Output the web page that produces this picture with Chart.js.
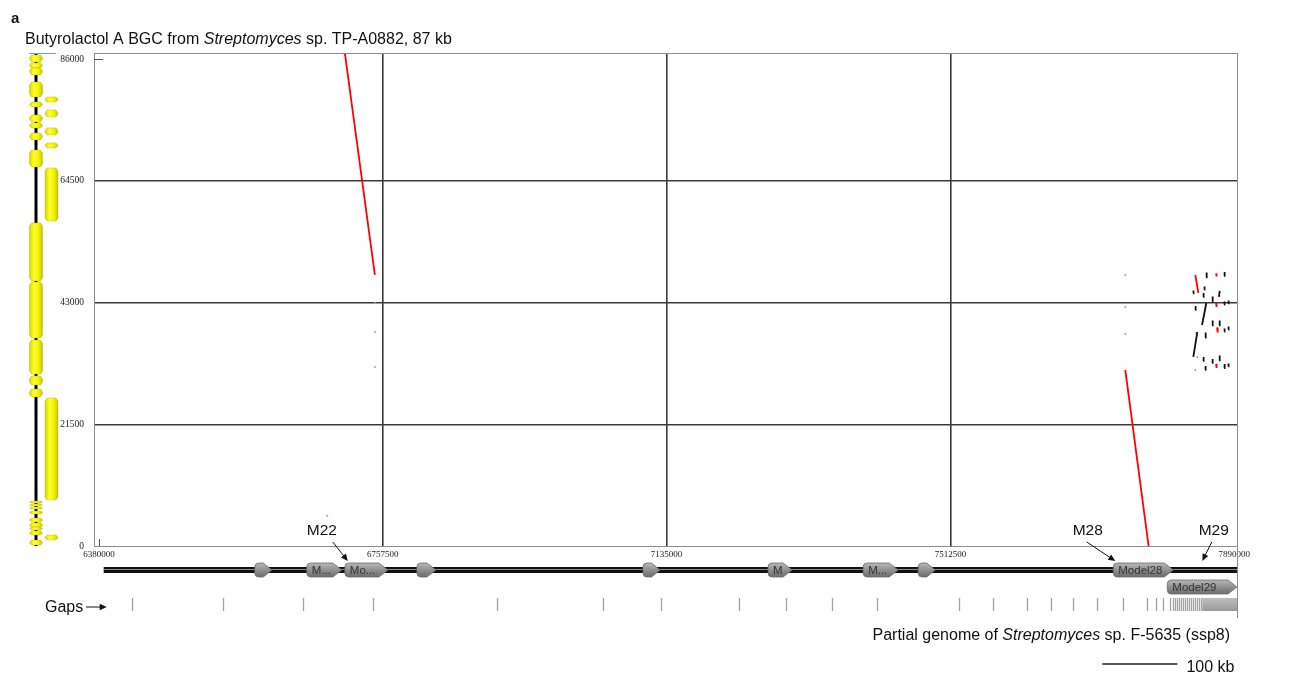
<!DOCTYPE html>
<html><head><meta charset="utf-8">
<script src="https://cdn.jsdelivr.net/npm/chart.js@4"></script>
<style>html,body{margin:0;padding:0;background:#fff}canvas{display:block}</style>
</head><body>
<canvas id="c" width="1250" height="673"></canvas>
<script>
// ---- axes ----
const xTicks = [6380000, 6757500, 7135000, 7512500, 7890000];
const yTicks = [0, 21500, 43000, 64500, 86000];
const xRange = [6373500, 7893600];
const yRange = [0, 87100];

// ---- dot-plot alignments [xStart, yStart, xEnd, yEnd] (bp) ----
const reverseMatches = [
  [6707090, 87110, 6747010, 47890],
  [7745030, 31100, 7776040, 0],
  [7838180, 47890, 7842170, 44710],
  [7865870, 48160, 7866390, 47630],
  [7865780, 42940, 7866480, 42230],
  [7867020, 38610, 7867900, 37730],
  [7865780, 32160, 7866480, 31450]
];
const forwardMatches = [
  [7852380, 47450, 7853260, 48330],
  [7876430, 47710, 7877130, 48410],
  [7849900, 45320, 7850420, 45860],
  [7835260, 44620, 7835780, 45150],
  [7848480, 44000, 7849180, 44700],
  [7860370, 43200, 7861250, 44080],
  [7869590, 44000, 7870650, 45060],
  [7876510, 42670, 7877050, 43200],
  [7881840, 42850, 7882370, 43380],
  [7847100, 39050, 7852820, 42940],
  [7837830, 41700, 7838530, 42410],
  [7860370, 38970, 7861250, 39850],
  [7869680, 38970, 7870560, 39850],
  [7876510, 37900, 7877050, 38430],
  [7881840, 38250, 7882370, 38780],
  [7835520, 33400, 7840840, 37810],
  [7851050, 36840, 7851930, 37720],
  [7848480, 32690, 7849180, 33400],
  [7860460, 32340, 7861160, 33040],
  [7869680, 32780, 7870560, 33660],
  [7876430, 31450, 7877130, 32160],
  [7881840, 31720, 7882370, 32250],
  [7851140, 31100, 7851840, 31810]
];
const reverseDots = [
  [7839510, 37640], [7840840, 33400], [7838180, 31100],
  [7745030, 47890], [7745030, 42230], [7745030, 37460],
  [6747010, 42940], [6747010, 37810], [6747010, 31630], [6683530, 5350]
];

// ---- BGC genes (query, bp) ----
const bgcLength = 87100;
const bgcGenesOnStrand = [
  [85520, 86760], [84460, 85350], [83220, 84460], [79340, 81990], [77570, 78450],
  [74920, 76160], [73860, 74740], [71740, 72980], [66970, 69970], [46830, 57080],
  [36750, 46650], [30390, 36400], [28450, 30040], [26330, 27740],
  [7600, 7950], [7070, 7420], [6540, 6890], [5650, 6180], [4240, 4950],
  [3360, 4060], [2830, 3360], [1940, 2650], [180, 1060]
];
const bgcGenesOffset = [
  [78450, 79340], [75800, 77040], [72630, 73860], [70330, 71210],
  [57430, 66790], [8130, 26150], [1060, 1940]
];

// ---- partial genome gene models [start, end, label, row] ----
const genomeGenes = [
  [6587320, 6609940, '', 0], [6656520, 6703090, 'M...', 0], [6707090, 6764310, 'Mo...', 0],
  [6802890, 6828180, '', 0], [7103630, 7126250, '', 0], [7269970, 7301910, 'M', 0],
  [7396390, 7442960, 'M...', 0], [7469580, 7492200, '', 0], [7729060, 7808900, 'Model28', 0],
  [7800920, 7893500, 'Model29', 1]
];
const genomeBackbone = [6386400, 7893600];
const gapPositions = [
  6423650, 6544740, 6651200, 6744340, 6909350, 7050410, 7127590, 7231380, 7293920,
  7355140, 7415020, 7524140, 7569380, 7614630, 7646560, 7675840, 7707770, 7742370,
  7774310, 7786280, 7795600, 7804910, 7808900, 7811600, 7814200, 7816900, 7819500,
  7822200, 7824900, 7827500, 7830200, 7832800, 7835500, 7838200, 7840800, 7843500, 7846100
];
const gapBlock = [7847500, 7893600];
const calloutLabels = ['M22', 'M28', 'M29'];
const calloutTextX = [6676450, 7695120, 7862680];
const calloutTailX = [6691110, 7693790, 7860010];
const calloutTipX = [6711080, 7731720, 7847500];
const scaleBarStart = 7714400, scaleBarLength = 100000;

const SANS = '"Liberation Sans", Arial, sans-serif';

function segData(list) {
  const out = [];
  list.forEach(s => { out.push({x: s[0], y: s[1]}, {x: s[2], y: s[3]}, {x: s[2], y: null}); });
  return out;
}
function richText(ctx, parts, x, y, size, align) {
  let total = 0; const w = [];
  parts.forEach(p => { ctx.font = (p[1] ? 'italic ' : '') + size + 'px ' + SANS; const m = ctx.measureText(p[0]).width; w.push(m); total += m; });
  let cx = align === 'right' ? x - total : x;
  ctx.textAlign = 'left';
  parts.forEach((p, i) => { ctx.font = (p[1] ? 'italic ' : '') + size + 'px ' + SANS; ctx.fillText(p[0], cx, y); cx += w[i]; });
}
function arrow(ctx, x1, y1, x2, y2, head) {
  const a = Math.atan2(y2 - y1, x2 - x1);
  ctx.beginPath(); ctx.moveTo(x1, y1); ctx.lineTo(x2 - Math.cos(a) * head * 0.8, y2 - Math.sin(a) * head * 0.8); ctx.stroke();
  ctx.beginPath(); ctx.moveTo(x2, y2);
  ctx.lineTo(x2 - head * Math.cos(a) + head * 0.45 * Math.sin(a), y2 - head * Math.sin(a) - head * 0.45 * Math.cos(a));
  ctx.lineTo(x2 - head * Math.cos(a) - head * 0.45 * Math.sin(a), y2 - head * Math.sin(a) + head * 0.45 * Math.cos(a));
  ctx.closePath(); ctx.fill();
}

const tracks = {
  id: 'tracks',
  afterDraw(chart) {
    const ctx = chart.ctx, ca = chart.chartArea;
    const X = v => chart.scales.x.getPixelForValue(v);
    const Y = v => chart.scales.y.getPixelForValue(v);
    ctx.save();
    // frame
    ctx.strokeStyle = '#8c8c8c'; ctx.lineWidth = 1;
    ctx.strokeRect(Math.round(ca.left) + 0.5, Math.round(ca.top) + 0.5, Math.round(ca.right - ca.left), Math.round(ca.bottom - ca.top));
    ctx.beginPath(); ctx.moveTo(Math.round(ca.right) + 0.5, ca.bottom); ctx.lineTo(Math.round(ca.right) + 0.5, ca.bottom + 72); ctx.stroke();
    // first-tick marks
    ctx.strokeStyle = '#555';
    ctx.beginPath(); ctx.moveTo(ca.left, Math.round(Y(yTicks[yTicks.length - 1])) + 0.5); ctx.lineTo(ca.left + 9, Math.round(Y(yTicks[yTicks.length - 1])) + 0.5); ctx.stroke();
    ctx.beginPath(); ctx.moveTo(Math.round(X(xTicks[0])) + 0.5, ca.bottom); ctx.lineTo(Math.round(X(xTicks[0])) + 0.5, ca.bottom - 7); ctx.stroke();

    // ---- left BGC track ----
    const lane1 = 36, lane2 = 51.5, hw = 6.5;
    ctx.strokeStyle = '#6a9ae0'; ctx.lineWidth = 1;
    ctx.beginPath(); ctx.moveTo(29, Math.round(Y(bgcLength)) + 0.5); ctx.lineTo(56, Math.round(Y(bgcLength)) + 0.5); ctx.stroke();
    ctx.strokeStyle = '#000'; ctx.lineWidth = 3;
    ctx.beginPath(); ctx.moveTo(lane1, Y(bgcLength) + 1); ctx.lineTo(lane1, Y(0)); ctx.stroke();
    function gene(cx, s, e) {
      const top = Y(e), bot = Y(s), h = bot - top, t = Math.min(3, h / 2.2);
      const g = ctx.createLinearGradient(cx - hw, 0, cx + hw, 0);
      g.addColorStop(0, '#d6d600'); g.addColorStop(0.35, '#ffff2a'); g.addColorStop(0.7, '#f2f200'); g.addColorStop(1, '#c4c400');
      ctx.fillStyle = g;
      ctx.beginPath();
      ctx.moveTo(cx - hw + 2, top); ctx.lineTo(cx + hw - 2, top); ctx.lineTo(cx + hw, top + t);
      ctx.lineTo(cx + hw, bot - t); ctx.lineTo(cx + hw - 2, bot); ctx.lineTo(cx - hw + 2, bot);
      ctx.lineTo(cx - hw, bot - t); ctx.lineTo(cx - hw, top + t); ctx.closePath(); ctx.fill();
      ctx.strokeStyle = 'rgba(170,170,0,0.6)'; ctx.lineWidth = 0.6; ctx.stroke();
    }
    bgcGenesOnStrand.forEach(g => gene(lane1, g[0], g[1]));
    bgcGenesOffset.forEach(g => gene(lane2, g[0], g[1]));

    // ---- bottom genome track ----
    const b = ca.bottom;
    const yBack = b + 24;
    ctx.lineCap = 'butt';
    ctx.strokeStyle = '#111'; ctx.lineWidth = 6;
    ctx.beginPath(); ctx.moveTo(X(genomeBackbone[0]), yBack); ctx.lineTo(X(genomeBackbone[1]), yBack); ctx.stroke();
    ctx.strokeStyle = '#8a8a8a'; ctx.lineWidth = 1.2;
    ctx.beginPath(); ctx.moveTo(X(genomeBackbone[0]), yBack - 0.5); ctx.lineTo(X(genomeBackbone[1]), yBack - 0.5); ctx.stroke();
    genomeGenes.forEach(g => {
      const x1 = X(g[0]), x2 = Math.min(X(g[1]), ca.right + 0.5), yc = yBack + g[3] * 17, h = 14;
      const top = yc - h / 2, bot = yc + h / 2, head = Math.min(9, (x2 - x1) * 0.5), r = 4;
      const gr = ctx.createLinearGradient(0, top, 0, bot);
      gr.addColorStop(0, '#b8b8b8'); gr.addColorStop(0.5, '#909090'); gr.addColorStop(1, '#6c6c6c');
      ctx.fillStyle = gr;
      ctx.beginPath();
      ctx.moveTo(x1 + r, top); ctx.lineTo(x2 - head, top); ctx.lineTo(x2, yc); ctx.lineTo(x2 - head, bot);
      ctx.lineTo(x1 + r, bot); ctx.quadraticCurveTo(x1, bot, x1, bot - r); ctx.lineTo(x1, top + r);
      ctx.quadraticCurveTo(x1, top, x1 + r, top); ctx.closePath(); ctx.fill();
      ctx.strokeStyle = '#6a6a6a'; ctx.lineWidth = 0.8; ctx.stroke();
      if (g[2]) {
        ctx.fillStyle = '#333'; ctx.font = '11.5px ' + SANS; ctx.textAlign = 'left'; ctx.textBaseline = 'middle';
        ctx.fillText(g[2], x1 + 5, yc + 0.5);
      }
    });
    // gaps
    const gTop = b + 52, gBot = b + 65;
    ctx.strokeStyle = '#a4a4a4'; ctx.lineWidth = 1.3;
    gapPositions.forEach(p => { const x = Math.round(X(p)) + 0.5; ctx.beginPath(); ctx.moveTo(x, gTop); ctx.lineTo(x, gBot); ctx.stroke(); });
    const gb = ctx.createLinearGradient(0, gTop, 0, gBot);
    gb.addColorStop(0, '#bdbdbd'); gb.addColorStop(1, '#9a9a9a');
    ctx.fillStyle = gb; ctx.fillRect(X(gapBlock[0]), gTop, Math.min(X(gapBlock[1]), ca.right) - X(gapBlock[0]), gBot - gTop);

    // callouts
    ctx.fillStyle = '#111'; ctx.strokeStyle = '#111'; ctx.lineWidth = 1;
    ctx.textBaseline = 'alphabetic';
    calloutLabels.forEach((l, i) => {
      ctx.font = '15.5px ' + SANS; ctx.textAlign = 'center';
      ctx.fillText(l, X(calloutTextX[i]), b - 11);
      arrow(ctx, X(calloutTailX[i]), b - 4, X(calloutTipX[i]), b + 15, 7);
    });
    // Gaps label
    ctx.font = '16px ' + SANS; ctx.textAlign = 'left';
    ctx.fillText('Gaps', 45, b + 66);
    arrow(ctx, 86, b + 61, X(genomeBackbone[0]) + 3, b + 61, 7);
    // captions
    ctx.fillStyle = '#111';
    richText(ctx, [['Partial genome of ', false], ['Streptomyces', true], [' sp. F-5635 (ssp8)', false]], 1230, b + 94, 16, 'right');
    // scale bar
    ctx.strokeStyle = '#222'; ctx.lineWidth = 1.5;
    ctx.beginPath(); ctx.moveTo(X(scaleBarStart), b + 118); ctx.lineTo(X(scaleBarStart + scaleBarLength), b + 118); ctx.stroke();
    ctx.font = '16px ' + SANS; ctx.textAlign = 'left'; ctx.textBaseline = 'alphabetic';
    ctx.fillText('100 kb', X(scaleBarStart + scaleBarLength) + 9, b + 126);
    // title
    ctx.font = 'bold 15px ' + SANS; ctx.fillText('a', 11, 23);
    richText(ctx, [['Butyrolactol A BGC from ', false], ['Streptomyces', true], [' sp. TP-A0882, 87 kb', false]], 25, 44, 16, 'left');
    ctx.restore();
  }
};

const gridColor = ticks => c => {
  const v = c.tick ? c.tick.value : null;
  return (v !== null && v !== ticks[0] && v !== ticks[ticks.length - 1]) ? '#3a3a3a' : 'rgba(0,0,0,0)';
};

new Chart(document.getElementById('c'), {
  type: 'scatter',
  data: {
    datasets: [
      {label: 'reverse', data: segData(reverseMatches), showLine: true, spanGaps: false, borderColor: '#ff0000', borderWidth: 1.8, pointRadius: 0, order: 1},
      {label: 'forward', data: segData(forwardMatches), showLine: true, spanGaps: false, borderColor: '#111111', borderWidth: 1.8, pointRadius: 0, order: 2},
      {label: 'reverse dots', data: reverseDots.map(d => ({x: d[0], y: d[1]})), pointRadius: 1, pointBorderWidth: 0, backgroundColor: '#ff7a7a', order: 3}
    ]
  },
  options: {
    responsive: false, animation: false, events: [],
    layout: {padding: {top: 53, right: 13, left: 0, bottom: 0}},
    plugins: {legend: {display: false}, tooltip: {enabled: false}},
    scales: {
      x: {
        type: 'linear', min: xRange[0], max: xRange[1],
        afterBuildTicks: s => { s.ticks = xTicks.map(v => ({value: v})); },
        afterFit: s => { s.height = 127; s.paddingLeft = 0; s.paddingRight = 0; },
        grid: {drawTicks: false, lineWidth: 1.6, color: gridColor(xTicks)},
        border: {display: false},
        ticks: {padding: 3, autoSkip: false, maxRotation: 0, color: '#222', font: {family: '"Liberation Serif", "Times New Roman", serif', size: 9}, callback: v => String(v)}
      },
      y: {
        type: 'linear', min: yRange[0], max: yRange[1],
        afterBuildTicks: s => { s.ticks = yTicks.map(v => ({value: v})); },
        afterFit: s => { s.width = 94; s.paddingTop = 0; s.paddingBottom = 0; },
        grid: {drawTicks: false, lineWidth: 1.6, color: gridColor(yTicks)},
        border: {display: false},
        ticks: {padding: 10, autoSkip: false, color: '#222', font: {family: '"Liberation Serif", "Times New Roman", serif', size: 9.5}, callback: v => String(v)}
      }
    }
  },
  plugins: [tracks]
});
</script>
</body></html>
